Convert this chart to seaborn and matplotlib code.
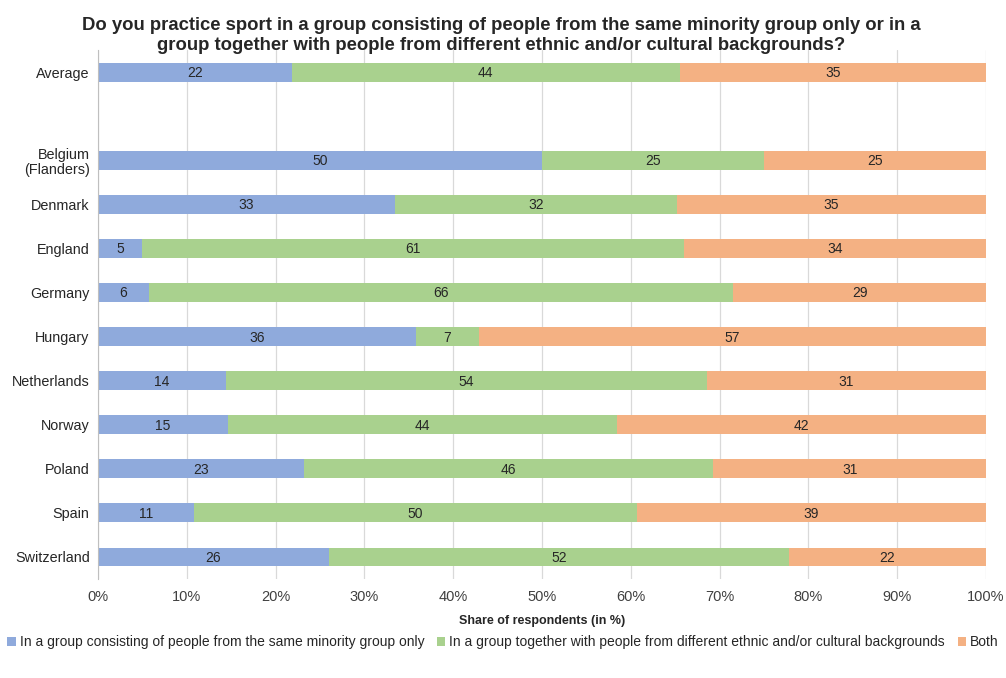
import matplotlib.pyplot as plt
import seaborn as sns
import pandas as pd

countries = ['Average', 'Belgium\n(Flanders)', 'Denmark', 'England', 'Germany', 'Hungary',
             'Netherlands', 'Norway', 'Poland', 'Spain', 'Switzerland']
same_group = [21.8, 50.0, 33.4, 5.0, 5.7, 35.8, 14.4, 14.6, 23.2, 10.8, 26.0]
mixed_group = [43.7, 25.0, 31.8, 61.0, 65.8, 7.1, 54.2, 43.8, 46.1, 49.9, 51.8]
both = [34.6, 25.0, 34.8, 34.0, 28.6, 57.1, 31.4, 41.6, 30.7, 39.3, 22.2]

series_names = ['In a group consisting of people from the same minority group only',
                'In a group together with people from different ethnic and/or cultural backgrounds',
                'Both']
colors = ['#8FAADC', '#A9D18E', '#F4B183']

if __name__ == '__main__':
    sns.set_style('white')
    plt.rcParams['font.family'] = ['Liberation Sans', 'DejaVu Sans']

    df = pd.DataFrame({'country': countries, 's1': same_group, 's2': mixed_group, 's3': both})
    df['c1'] = df['s1']
    df['c2'] = df['s1'] + df['s2']
    df['c3'] = df['s1'] + df['s2'] + df['s3']

    # empty slot after "Average"
    order = ['Average', ''] + countries[1:]

    fig = plt.figure(figsize=(10.06, 6.78), dpi=100)
    ax = fig.add_axes([0.0974, 0.146, 0.8827, 0.78])

    # stacked by overlaying cumulative sums, largest first
    for col, color, name in zip(['c3', 'c2', 'c1'], colors[::-1], series_names[::-1]):
        sns.barplot(data=df, x=col, y='country', order=order, color=color, width=0.43,
                    orient='h', ax=ax, label=name, saturation=1, linewidth=0)

    for i, row in df.iterrows():
        ypos = order.index(row['country'])
        start = 0
        for s in ['s1', 's2', 's3']:
            v = row[s]
            ax.text(start + v / 2, ypos + 0.02, '%d' % round(v), ha='center', va='center',
                    fontsize=10, color='#262626')
            start += v

    ax.set_xlim(0, 100)
    ax.set_xticks(range(0, 101, 10))
    ax.set_xticklabels(['%d%%' % t for t in range(0, 101, 10)], fontsize=10.5, color='#404040')
    ax.tick_params(axis='y', labelsize=10.4, labelcolor='#262626', length=0, pad=6)
    ax.tick_params(axis='x', length=0, pad=8)
    for lbl in ax.get_yticklabels():
        lbl.set_linespacing(1.15)
    ax.set_ylabel('')
    ax.set_xlabel('Share of respondents (in %)', fontsize=9, fontweight='bold', labelpad=8)
    ax.grid(axis='x', color='#D9D9D9', linewidth=0.9)
    ax.set_axisbelow(True)
    for side in ['top', 'right', 'bottom']:
        ax.spines[side].set_visible(False)
    ax.spines['left'].set_color('#BFBFBF')

    fig.suptitle('Do you practice sport in a group consisting of people from the same minority group only or in a\n'
                 'group together with people from different ethnic and/or cultural backgrounds?',
                 x=0.498, y=0.975, fontsize=13.3, fontweight='bold', linespacing=1.2)

    handles, labels = ax.get_legend_handles_labels()
    ax.get_legend().remove()
    fig.legend(handles[::-1], labels[::-1], loc='center', bbox_to_anchor=(0.5, 0.053), ncol=3,
               frameon=False, fontsize=10, handlelength=0.6, handleheight=0.6,
               handletextpad=0.3, columnspacing=0.9)

    plt.savefig('out.png', dpi=100)
